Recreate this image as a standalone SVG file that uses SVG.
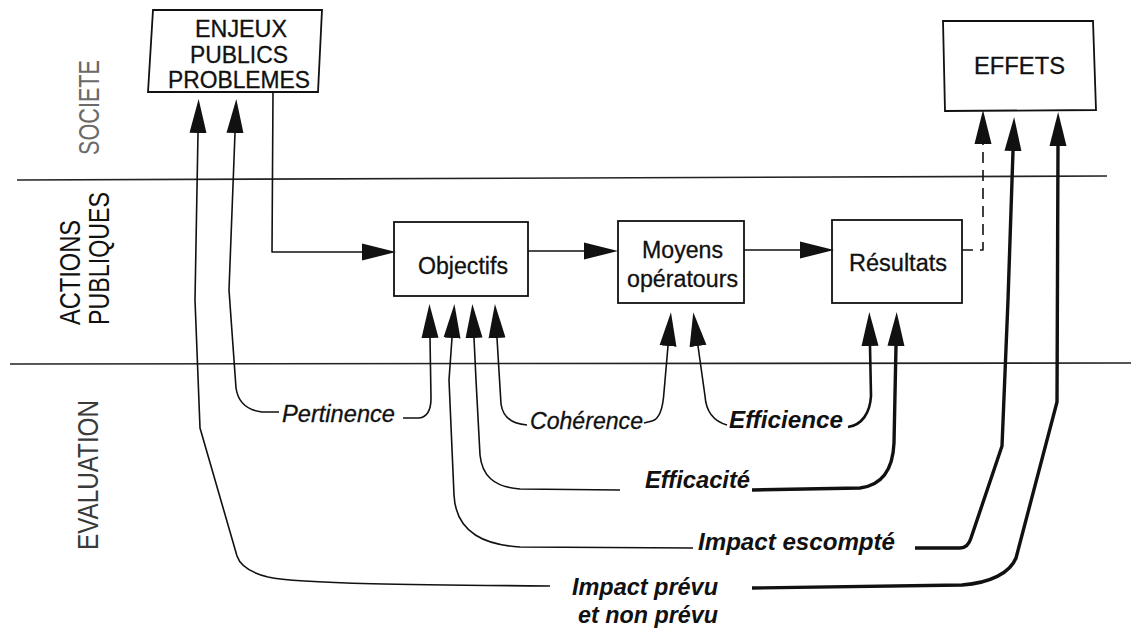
<svg xmlns="http://www.w3.org/2000/svg" width="1131" height="630" viewBox="0 0 1131 630">
<defs>
<marker id="ah" markerUnits="userSpaceOnUse" markerWidth="34" markerHeight="18" viewBox="0 0 32 16" refX="0" refY="8" orient="auto">
<path d="M0,0 L32,8 L0,16 z" fill="#111"/>
</marker>
<style>
.box{fill:#fff;stroke:#111;stroke-width:1.8}
.t{font-family:"Liberation Sans",Arial,Helvetica,sans-serif;fill:#111}
.reg{stroke:#111;stroke-width:0.3}
.node{font-size:23.5px}
.cap{font-size:23px}
.side{font-size:29px}
.it{font-style:italic;font-size:23.5px}
.bi{font-style:italic;font-weight:bold;font-size:24px}
.lane{fill:none;stroke:#222;stroke-width:1.6}
.c{fill:none;stroke:#111;stroke-width:1.6;stroke-linejoin:round;stroke-linecap:butt}
.arr{marker-end:url(#ah)}
.mid{stroke-width:2.6}
.thick{stroke-width:3.4}
.dash{stroke-dasharray:11 7}
</style>
</defs>
<rect width="1131" height="630" fill="#fff"/>

<g id="lanes">
<path class="lane" d="M17,180 L1107,176"/>
<path class="lane" d="M10,364 L1131,363"/>
<text class="t side" style="fill:#6a6a6a" transform="translate(99,155) rotate(-90)" x="0" y="0" textLength="95" lengthAdjust="spacingAndGlyphs">SOCIETE</text>
<text class="t side" transform="translate(80,325) rotate(-90)" x="0" y="0" textLength="105" lengthAdjust="spacingAndGlyphs">ACTIONS</text>
<text class="t side" transform="translate(109,325) rotate(-90)" x="0" y="0" textLength="133" lengthAdjust="spacingAndGlyphs">PUBLIQUES</text>
<text class="t side" style="fill:#3a3a3a" transform="translate(98,550) rotate(-90)" x="0" y="0" textLength="150" lengthAdjust="spacingAndGlyphs">EVALUATION</text>
</g>

<g id="node-enjeux">
<polygon class="box" points="153,10 322,10 318,92 148,92"/>
<text class="t cap reg" x="195" y="37" textLength="92" lengthAdjust="spacingAndGlyphs">ENJEUX</text>
<text class="t cap reg" x="190" y="63" textLength="98" lengthAdjust="spacingAndGlyphs">PUBLICS</text>
<text class="t cap reg" x="168" y="88" textLength="142" lengthAdjust="spacingAndGlyphs">PROBLEMES</text>
</g>

<g id="node-objectifs">
<rect class="box" x="394" y="222" width="134" height="74"/>
<text class="t node reg" x="418" y="274" textLength="90" lengthAdjust="spacingAndGlyphs">Objectifs</text>
</g>

<g id="node-moyens">
<rect class="box" x="618" y="221" width="126" height="82"/>
<text class="t node reg" x="642" y="258" textLength="81" lengthAdjust="spacingAndGlyphs">Moyens</text>
<text class="t node reg" x="627" y="287" textLength="111" lengthAdjust="spacingAndGlyphs">opératours</text>
</g>

<g id="node-resultats">
<rect class="box" x="832" y="220" width="130" height="83"/>
<text class="t node reg" x="849" y="271" textLength="98" lengthAdjust="spacingAndGlyphs">Résultats</text>
</g>

<g id="node-effets">
<polygon class="box" points="943,21 1093,21 1096,110 945,111"/>
<text class="t node reg" x="974" y="74" textLength="91" lengthAdjust="spacingAndGlyphs">EFFETS</text>
</g>

<g id="connectors">
<path class="c arr" d="M273,92 L272,252 L362,252"/>
<path class="c arr" d="M528,251 L584,251"/>
<path class="c arr" d="M744,250 L800,250"/>
<path class="c dash arr" d="M962,250 L983,250 L983,144"/>
<path class="c arr" d="M279,412 L262,412 C246,410 238,402 236,388 L229,290 L235,133"/>
<path class="c arr" d="M403,418 L419,418 C428,417 431,410 431,398 L430,338"/>
<path class="c arr" d="M527,425 C512,424 503,418 501,404 L497,338"/>
<path class="c arr" d="M644,423 L652,421 C660,419 663,408 664,392 L668,346"/>
<path class="c arr" d="M727,425 C713,421 706,411 705,396 L698,346"/>
<path class="c mid arr" d="M848,427 C862,425 870,413 871,396 L870,346"/>
<path class="c arr" d="M620,490 L520,489 C493,487 482,475 480,455 L476,380 L474,338"/>
<path class="c thick arr" d="M752,490 L860,488 C884,485 893,467 894,443 L896,346"/>
<path class="c arr" d="M693,548 L520,547 C488,545 456,535 454,495 L449,380 L452,338"/>
<path class="c thick arr" d="M915,548 L960,548 Q968,548 971,538 L1002,446 L1008,300 L1013,151"/>
<path class="c arr" d="M550,586 C420,585 300,584 268,577 C248,572 240,565 237,556 L200,428 L195,300 L198,133"/>
<path class="c thick arr" d="M752,588 L962,585 C990,583 1010,573 1016,558 L1057,402 L1058,146"/>
</g>

<g id="connector-labels">
<text class="t it reg" x="282" y="422" textLength="113" lengthAdjust="spacingAndGlyphs">Pertinence</text>
<text class="t it reg" x="530" y="429" textLength="113" lengthAdjust="spacingAndGlyphs">Cohérence</text>
<text class="t bi" x="729" y="428" textLength="114" lengthAdjust="spacingAndGlyphs">Efficience</text>
<text class="t bi" x="645" y="488" textLength="105" lengthAdjust="spacingAndGlyphs">Efficacité</text>
<text class="t bi" x="698" y="550" textLength="197" lengthAdjust="spacingAndGlyphs">Impact escompté</text>
<text class="t bi" x="572" y="595" textLength="146" lengthAdjust="spacingAndGlyphs">Impact prévu</text>
<text class="t bi" x="578" y="623" textLength="140" lengthAdjust="spacingAndGlyphs">et non prévu</text>
</g>
</svg>
